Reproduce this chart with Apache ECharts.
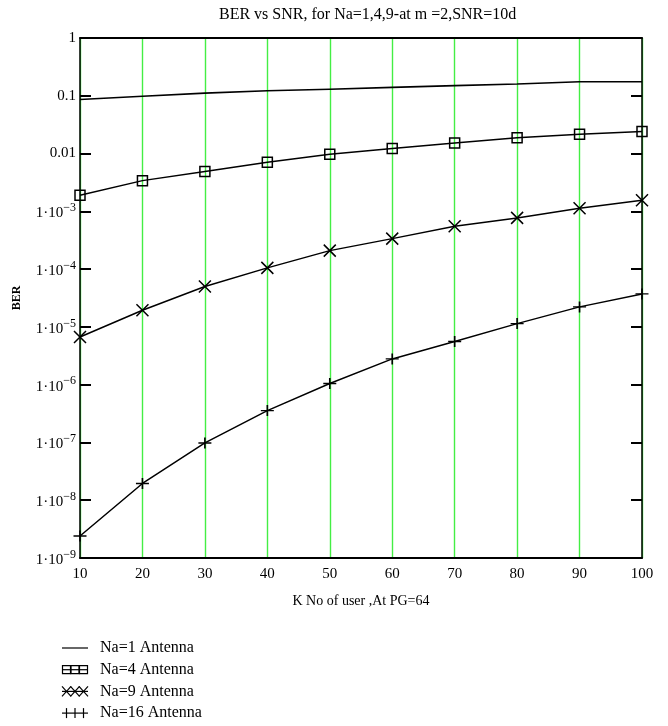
<!DOCTYPE html>
<html>
<head>
<meta charset="utf-8">
<script src="https://cdn.jsdelivr.net/npm/echarts@6/dist/echarts.min.js"></script>
<style>
  html, body { margin: 0; padding: 0; background: #fff; }
  #chart { width: 668px; height: 726px; }
</style>
</head>
<body>
<div id="chart"></div>
<script>
// Number of users K
const users = [10, 20, 30, 40, 50, 60, 70, 80, 90, 100];

// BER for each antenna count
const berNa1  = [0.086, 0.098, 0.111, 0.122, 0.130, 0.140, 0.150, 0.160, 0.175, 0.175];
const berNa4  = [1.9e-3, 3.4e-3, 4.9e-3, 7.1e-3, 9.7e-3, 0.0122, 0.0152, 0.0188, 0.0215, 0.0242];
const berNa9  = [6.7e-6, 1.94e-5, 5.0e-5, 1.05e-4, 2.09e-4, 3.37e-4, 5.5e-4, 7.7e-4, 1.13e-3, 1.55e-3];
const berNa16 = [2.4e-9, 1.95e-8, 9.8e-8, 3.56e-7, 1.05e-6, 2.79e-6, 5.6e-6, 1.14e-5, 2.22e-5, 3.72e-5];

const seriesNames = ['Na=1 Antenna', 'Na=4 Antenna', 'Na=9 Antenna', 'Na=16 Antenna'];

const titleText = 'BER vs SNR, for Na=1,4,9-at m =2,SNR=10d';
const xAxisTitle = 'K No of user ,At PG=64';
const yAxisTitle = 'BER';

const FONT = 'Liberation Serif';

const pairs = arr => users.map((k, i) => [k, arr[i]]);

// y tick labels: plain decimals near 1, "1·10^-n" below
function yLabel(v) {
  const e = Math.round(Math.log10(v));
  if (e === 0) return '1';
  if (e === -1) return '0.1';
  if (e === -2) return '0.01';
  return '{m|1\u00b710}{s|\u2212' + (-e) + '}';
}

const crossPath = 'path://M0,0L10,10M10,0L0,10';
const plusPath  = 'path://M0,5L12,5M6,0L6,10';

// legend drawn as a small key under the plot
function legendKey(row, kind) {
  const y = 648 + row * 21.7;
  const x0 = 62, x1 = 88;
  const els = [];
  els.push({ type: 'line', shape: { x1: x0, y1: y, x2: x1, y2: y }, style: { stroke: '#000', lineWidth: 1.2 } });
  for (let j = 0; j < 3; j++) {
    const cx = x0 + 4.5 + j * 8.5;
    if (kind === 'rect') {
      els.push({ type: 'rect', shape: { x: cx - 4, y: y - 4, width: 8, height: 8 }, style: { fill: 'none', stroke: '#000', lineWidth: 1.2 } });
    } else if (kind === 'cross') {
      els.push({ type: 'polyline', shape: { points: [[cx - 4.5, y - 5], [cx + 4.5, y + 5]] }, style: { stroke: '#000', lineWidth: 1.2 } });
      els.push({ type: 'polyline', shape: { points: [[cx + 4.5, y - 5], [cx - 4.5, y + 5]] }, style: { stroke: '#000', lineWidth: 1.2 } });
    } else if (kind === 'plus') {
      els.push({ type: 'line', shape: { x1: cx, y1: y - 5, x2: cx, y2: y + 5 }, style: { stroke: '#000', lineWidth: 1.2 } });
    }
  }
  els.push({ type: 'text', style: { x: 100, y: y, text: seriesNames[row], font: '16px "' + FONT + '"', fill: '#000', textVerticalAlign: 'middle' } });
  return els;
}

const legendEls = [].concat(legendKey(0, 'none'), legendKey(1, 'rect'), legendKey(2, 'cross'), legendKey(3, 'plus'));

const chart = echarts.init(document.getElementById('chart'), null, { renderer: 'canvas' });

const gridColor = '#44ee44';

chart.setOption({
  backgroundColor: '#fff',
  animation: false,
  title: {
    text: titleText,
    left: 214,
    top: 2,
    textStyle: { fontFamily: FONT, fontSize: 16, fontWeight: 'normal', color: '#000' }
  },
  grid: { left: 80, top: 38, right: 26, bottom: 168 },
  xAxis: [
    {
      type: 'value', min: 10, max: 100, interval: 10, position: 'bottom',
      name: xAxisTitle, nameLocation: 'middle', nameGap: 36,
      nameTextStyle: { fontFamily: FONT, fontSize: 14, color: '#000' },
      axisLine: { show: true, lineStyle: { color: '#000', width: 2 } },
      axisTick: { show: false },
      axisLabel: { fontFamily: FONT, fontSize: 15, color: '#000', margin: 9 },
      splitLine: { show: true, lineStyle: { width: 1.4, color: gridColor } }
    },
    {
      type: 'value', min: 10, max: 100, interval: 10, position: 'top',
      axisLine: { show: true, lineStyle: { color: '#000', width: 2 } },
      axisTick: { show: false }, axisLabel: { show: false }, splitLine: { show: false }
    }
  ],
  yAxis: [
    {
      type: 'log', logBase: 10, min: 1e-9, max: 1, position: 'left',
      name: yAxisTitle, nameLocation: 'middle', nameGap: 57, nameRotate: 90,
      nameTextStyle: { fontFamily: FONT, fontSize: 12, fontWeight: 'bold', color: '#000' },
      axisLine: { show: true, lineStyle: { color: '#000', width: 1.5 } },
      axisTick: { show: true, inside: true, length: 11, lineStyle: { color: '#000', width: 2 } },
      minorTick: { show: false },
      axisLabel: {
        formatter: yLabel, margin: 4, color: '#000', fontFamily: FONT, fontSize: 15,
        rich: {
          m: { fontFamily: FONT, fontSize: 15, color: '#000', lineHeight: 19, verticalAlign: 'bottom' },
          s: { fontFamily: FONT, fontSize: 12, color: '#000', lineHeight: 19, verticalAlign: 'top' }
        }
      },
      splitLine: { show: false }
    },
    {
      type: 'log', logBase: 10, min: 1e-9, max: 1, position: 'right',
      axisLine: { show: true, lineStyle: { color: '#000', width: 1.5 } },
      axisTick: { show: true, inside: true, length: 11, lineStyle: { color: '#000', width: 2 } },
      axisLabel: { show: false }, splitLine: { show: false }
    }
  ],
  series: [
    {
      name: seriesNames[0], type: 'line', data: pairs(berNa1),
      showSymbol: false, symbol: 'none',
      lineStyle: { color: '#000', width: 1.6 }
    },
    {
      name: seriesNames[1], type: 'line', data: pairs(berNa4),
      symbol: 'rect', symbolSize: 10,
      itemStyle: { color: 'none', borderColor: '#000', borderWidth: 1.5 },
      lineStyle: { color: '#000', width: 1.5 }
    },
    {
      name: seriesNames[2], type: 'line', data: pairs(berNa9),
      symbol: crossPath, symbolSize: 12,
      itemStyle: { color: 'none', borderColor: '#000', borderWidth: 1.5 },
      lineStyle: { color: '#000', width: 1.5 }
    },
    {
      name: seriesNames[3], type: 'line', data: pairs(berNa16),
      symbol: plusPath, symbolSize: [13, 11],
      itemStyle: { color: 'none', borderColor: '#000', borderWidth: 1.5 },
      lineStyle: { color: '#000', width: 1.5 }
    }
  ],
  graphic: legendEls
});
</script>
</body>
</html>
